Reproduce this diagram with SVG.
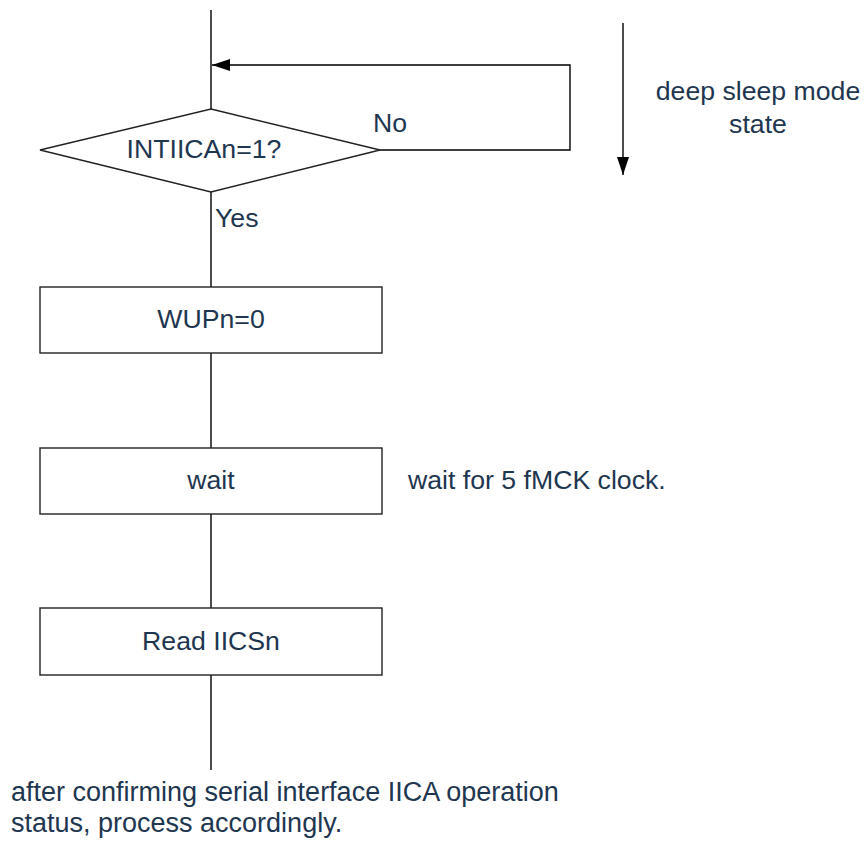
<svg xmlns="http://www.w3.org/2000/svg" width="868" height="841" viewBox="0 0 868 841">
<style>
.ln{fill:none;stroke:#000;stroke-width:1.4}
.bx{fill:#fff;stroke:#222;stroke-width:1.4}
.t{font-family:"Liberation Sans",Arial,sans-serif;font-size:26.67px;fill:#1e3650}
.m{text-anchor:middle}
</style>
<defs>
<marker id="ah" viewBox="0 0 18 12" refX="18" refY="6" markerWidth="18" markerHeight="12" markerUnits="userSpaceOnUse" orient="auto">
<path d="M0,0 L18,6 L0,12 Z" fill="#000"/>
</marker>
</defs>
<rect width="868" height="841" fill="#fff"/>
<g id="connectors">
<line class="ln" x1="211" y1="10" x2="211" y2="109"/>
<polyline class="ln" points="380,150 570,150 570,65 212,65" marker-end="url(#ah)"/>
<line class="ln" x1="211" y1="192" x2="211" y2="287"/>
<line class="ln" x1="211" y1="353" x2="211" y2="448"/>
<line class="ln" x1="211" y1="514" x2="211" y2="608"/>
<line class="ln" x1="211" y1="675" x2="211" y2="770"/>
<line class="ln" x1="623" y1="23" x2="623" y2="175" marker-end="url(#ah)"/>
<text class="t" x="373" y="132">No</text>
<text class="t" x="215" y="227">Yes</text>
</g>
<g id="decision">
<polygon class="bx" points="211,109 380,150 211,192 40,150"/>
<text class="t m" x="204" y="158">INTIICAn=1?</text>
</g>
<g id="wup">
<rect class="bx" x="40" y="287" width="342" height="66"/>
<text class="t m" x="211" y="328">WUPn=0</text>
</g>
<g id="wait">
<rect class="bx" x="40" y="448" width="342" height="66"/>
<text class="t m" x="211" y="489">wait</text>
</g>
<g id="read">
<rect class="bx" x="40" y="608" width="342" height="67"/>
<text class="t m" x="211" y="650">Read IICSn</text>
</g>
<g id="notes">
<text class="t" x="408" y="489">wait for 5 fMCK clock.</text>
<text class="t m" x="758" y="100">deep sleep mode</text>
<text class="t m" x="758" y="133">state</text>
<text class="t" x="11" y="801" style="font-size:27px">after confirming serial interface IICA operation</text>
<text class="t" x="11" y="832" style="font-size:27px">status, process accordingly.</text>
</g>
</svg>
